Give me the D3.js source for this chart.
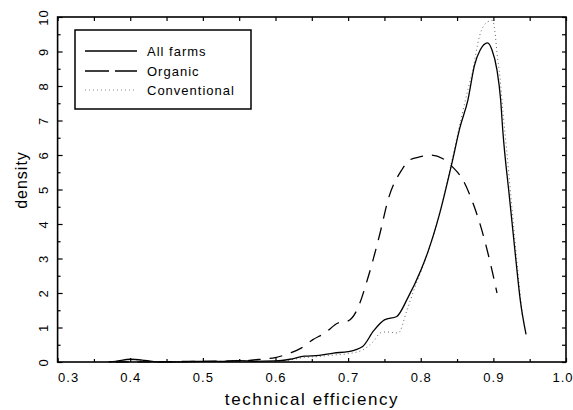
<!DOCTYPE html>
<html>
<head>
<meta charset="utf-8">
<script src="https://cdn.jsdelivr.net/npm/d3@7"></script>
<style>
  body { margin: 0; background: #fff; }
  svg { font-family: "Liberation Sans", Arial, sans-serif; }
  .axis path { display: none; }
  .axis line { stroke: #000; stroke-width: 1.2; }
  .axis text { font-size: 13px; letter-spacing: 1px; fill: #000; }
</style>
</head>
<body>
<svg id="chart" width="573" height="410"></svg>
<script>
// All farms (solid)
var allX = [0.37, 0.38, 0.40, 0.42, 0.44, 0.48, 0.50, 0.53, 0.55, 0.57, 0.60, 0.62, 0.64, 0.66, 0.68, 0.70, 0.72, 0.735, 0.75, 0.767, 0.782, 0.80, 0.81, 0.826, 0.843, 0.854, 0.865, 0.874, 0.882, 0.892, 0.898, 0.905, 0.910, 0.913, 0.922, 0.931, 0.937, 0.945];
var allY = [0, 0.02, 0.08, 0.05, 0.0, 0.01, 0.02, 0.02, 0.04, 0.02, 0.03, 0.08, 0.17, 0.19, 0.26, 0.30, 0.45, 0.90, 1.22, 1.32, 1.85, 2.65, 3.2, 4.3, 5.77, 6.8, 7.6, 8.6, 9.05, 9.25, 9.05, 8.46, 7.6, 6.7, 4.8, 2.96, 1.8, 0.8];

// Organic (dashed)
var orgX = [0.38, 0.45, 0.50, 0.55, 0.58, 0.60, 0.62, 0.636, 0.651, 0.668, 0.686, 0.70, 0.712, 0.727, 0.744, 0.755, 0.774, 0.785, 0.80, 0.813, 0.830, 0.844, 0.858, 0.872, 0.884, 0.898, 0.905];
var orgY = [0, 0.01, 0.02, 0.03, 0.08, 0.13, 0.26, 0.41, 0.64, 0.84, 1.13, 1.19, 1.5, 2.42, 3.74, 4.7, 5.57, 5.86, 5.95, 6.0, 5.9, 5.65, 5.28, 4.6, 3.83, 2.67, 2.0];

// Conventional (dotted)
var conX = [0.37, 0.38, 0.40, 0.42, 0.44, 0.50, 0.53, 0.55, 0.57, 0.60, 0.62, 0.64, 0.66, 0.68, 0.70, 0.72, 0.735, 0.745, 0.753, 0.769, 0.781, 0.792, 0.80, 0.826, 0.843, 0.855, 0.865, 0.871, 0.881, 0.892, 0.899, 0.902, 0.905, 0.909, 0.913, 0.918, 0.925, 0.932, 0.94];
var conY = [0, 0.02, 0.07, 0.04, 0.0, 0.01, 0.02, 0.05, 0.02, 0.02, 0.06, 0.13, 0.16, 0.2, 0.24, 0.35, 0.6, 0.85, 0.87, 0.84, 1.5, 2.17, 2.6, 4.3, 5.85, 7.0, 7.9, 8.4, 9.45, 9.86, 9.9, 9.6, 8.95, 8.27, 7.3, 6.2, 4.6, 3.0, 1.3];

var xMajor = [0.3, 0.4, 0.5, 0.6, 0.7, 0.8, 0.9, 1.0];
var xMinor = [0.35, 0.45, 0.55, 0.65, 0.75, 0.85, 0.95];
var yMajor = [0, 1, 2, 3, 4, 5, 6, 7, 8, 9, 10];
var yMinor = [0.5, 1.5, 2.5, 3.5, 4.5, 5.5, 6.5, 7.5, 8.5, 9.5];

var seriesNames = ["All farms", "Organic", "Conventional"];

var margin = { top: 17, right: 7, bottom: 48, left: 57.6 };
var width = 573 - margin.left - margin.right;
var height = 410 - margin.top - margin.bottom;

var svg = d3.select("#chart");
var g = svg.append("g").attr("transform", "translate(" + margin.left + "," + margin.top + ")");

var x = d3.scaleLinear().domain([0.3, 1.0]).range([0, width]);
var y = d3.scaleLinear().domain([0, 10]).range([height, 0]);

// inward ticks on all four sides
var lastX = xMajor.length - 1;
g.append("g").attr("class", "axis")
    .attr("transform", "translate(0," + height + ")")
    .call(d3.axisBottom(x).tickValues(xMajor).tickSize(-4).tickPadding(11).tickFormat(d3.format(".1f")))
    .selectAll("text")
    .attr("text-anchor", function(d, i) {
        if (i === 0) return "start";
        if (i === lastX) return "end";
        return "middle";
    })
    .attr("x", function(d, i) { return i === lastX ? 7 : 0; });
g.append("g").attr("class", "axis")
    .attr("transform", "translate(0," + height + ")")
    .call(d3.axisBottom(x).tickValues(xMinor).tickSize(-3).tickFormat(""));
g.append("g").attr("class", "axis")
    .call(d3.axisTop(x).tickValues(xMajor.concat(xMinor)).tickSize(-4).tickFormat(""));

g.append("g").attr("class", "axis")
    .call(d3.axisLeft(y).tickValues(yMajor).tickSize(-5).tickFormat(d3.format("d")))
    .selectAll("text")
    .attr("x", null)
    .attr("dy", null)
    .attr("text-anchor", "middle")
    .attr("transform", "translate(-9.5,0) rotate(-90)");
g.append("g").attr("class", "axis")
    .call(d3.axisLeft(y).tickValues(yMinor).tickSize(-3).tickFormat(""));
g.append("g").attr("class", "axis")
    .attr("transform", "translate(" + width + ",0)")
    .call(d3.axisRight(y).tickValues(yMajor.concat(yMinor)).tickSize(-4).tickFormat(""));

// frame
g.append("rect")
    .attr("width", width).attr("height", height)
    .attr("fill", "none").attr("stroke", "#000").attr("stroke-width", 1.6);

function toPoints(xs, ys) {
    return xs.map(function(v, i) { return [v, ys[i]]; });
}

var line = d3.line()
    .x(function(d) { return x(d[0]); })
    .y(function(d) { return y(d[1]); })
    .curve(d3.curveMonotoneX);

g.append("path").datum(toPoints(conX, conY))
    .attr("d", line).attr("fill", "none")
    .attr("stroke", "#666").attr("stroke-width", 1).attr("stroke-dasharray", "1,3");
g.append("path").datum(toPoints(orgX, orgY))
    .attr("d", line).attr("fill", "none")
    .attr("stroke", "#000").attr("stroke-width", 1.3).attr("stroke-dasharray", "13,9");
g.append("path").datum(toPoints(allX, allY))
    .attr("d", line).attr("fill", "none")
    .attr("stroke", "#000").attr("stroke-width", 1.3);

// legend
var legend = svg.append("g");
legend.append("rect")
    .attr("x", 75).attr("y", 30).attr("width", 176).attr("height", 79)
    .attr("fill", "#fff").attr("stroke", "#000").attr("stroke-width", 1.5);
var legendStyles = [
    { stroke: "#000", width: 1.3, dash: null },
    { stroke: "#000", width: 1.6, dash: "24,6" },
    { stroke: "#888", width: 1, dash: "1,3" }
];
var legendY = [51, 71, 90];
seriesNames.forEach(function(name, i) {
    legend.append("line")
        .attr("x1", 85).attr("x2", 137)
        .attr("y1", legendY[i]).attr("y2", legendY[i])
        .attr("stroke", legendStyles[i].stroke)
        .attr("stroke-width", legendStyles[i].width)
        .attr("stroke-dasharray", legendStyles[i].dash);
    legend.append("text")
        .attr("x", 147).attr("y", legendY[i]).attr("dy", "0.36em")
        .style("font-size", "13px").style("letter-spacing", "1px")
        .text(name);
});

// axis titles
svg.append("text")
    .attr("x", 312).attr("y", 405)
    .attr("text-anchor", "middle")
    .style("font-size", "17px").style("letter-spacing", "1.6px")
    .text("technical efficiency");
svg.append("text")
    .attr("transform", "translate(27,180) rotate(-90)")
    .attr("text-anchor", "middle")
    .style("font-size", "16px").style("letter-spacing", "1px")
    .text("density");
</script>
</body>
</html>
